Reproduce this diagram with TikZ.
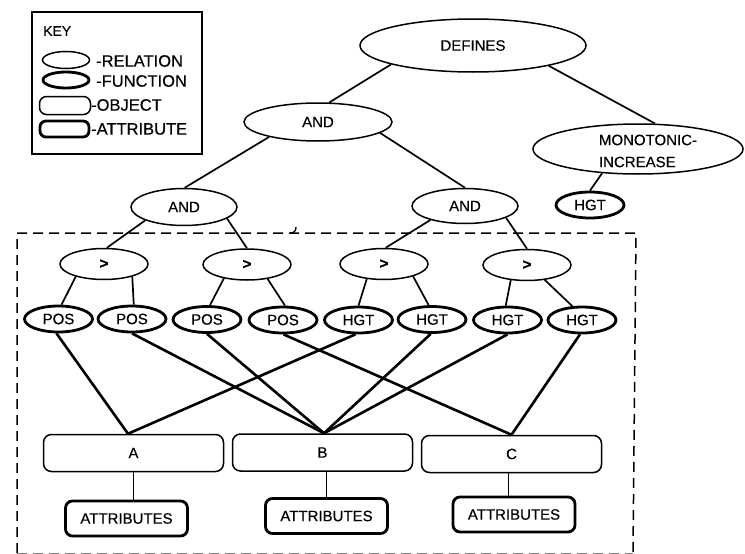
\documentclass[tikz,border=0pt]{standalone}
\usepackage{fontspec}
\setmainfont{Liberation Sans}[FakeBold=0.4]
\usetikzlibrary{shapes.geometric}
\begin{document}
\begin{tikzpicture}[x=1pt,y=-1pt,
  lbl/.style={font=\fontsize{15}{22}\selectfont},
  rel/.style={ellipse,draw,line width=1.5pt,inner sep=0pt,lbl},
  fun/.style={ellipse,draw,line width=2.8pt,inner sep=0pt,lbl,minimum width=68pt,minimum height=26pt},
  obj/.style={rectangle,rounded corners=8pt,draw,line width=1.5pt,inner sep=0pt,lbl,minimum width=180pt,minimum height=37pt},
  attr/.style={rectangle,rounded corners=7pt,draw,line width=2.8pt,inner sep=0pt,lbl,minimum width=122pt,minimum height=35pt},
  rel3/.style={rel,minimum width=88pt,minimum height=31pt},
  thinedge/.style={line width=1.7pt},
  thickedge/.style={line width=2.6pt},
  keytxt/.style={anchor=west,inner sep=0pt,font=\fontsize{16.5}{18}\selectfont}
]
\useasboundingbox (0,0) rectangle (745,554);

% ---------- key ----------
\node[draw,line width=1.5pt,minimum width=170pt,minimum height=142pt,inner sep=0pt] (keybox) at (117,83) {};
\node[anchor=west,inner sep=0pt,font=\fontsize{14}{16}\selectfont] (keyttl) at (43,31) {KEY};
\node[rel,minimum width=47pt,minimum height=17pt] (krel) at (66,60) {};
\node[fun,minimum width=46pt,minimum height=16pt] (kfun) at (66,80) {};
\node[obj,minimum width=51pt,minimum height=18pt,rounded corners=7pt] (kobj) at (65,105.5) {};
\node[attr,minimum width=49pt,minimum height=16pt,rounded corners=6pt] (kattr) at (64.5,129) {};
\node[keytxt] (trel) at (96,61) {-RELATION};
\node[keytxt] (tfun) at (96,81) {-FUNCTION};
\node[keytxt] (tobj) at (91,105) {-OBJECT};
\node[keytxt] (tattr) at (91,129) {-ATTRIBUTE};

% ---------- dashed frame ----------
\draw[line width=1.5pt,dash pattern=on 10pt off 6pt] (17,553) -- (17,233) -- (636,233) -- (633,553);
\draw[line width=0.8pt,gray,dash pattern=on 10pt off 6pt] (17,553) -- (633,553);
\draw[line width=1.3pt] (290,233) .. controls (294,233) and (296,231) .. (296,227);

% ---------- top of tree ----------
\node[rel,minimum width=226pt,minimum height=53pt] (def) at (473,45.5) {DEFINES};
\node[rel,minimum width=148pt,minimum height=38pt] (andT) at (318,122) {AND};
\node[rel,minimum width=210pt,minimum height=50pt] (mono) at (638,149) {};
\node[align=left,inner sep=0pt,lbl] (monotxt) at (648,151) {MONOTONIC-\\INCREASE};
\node[fun] (hgtT) at (590,205) {HGT};
\node[rel,minimum width=106pt,minimum height=37pt] (andL) at (184,207) {AND};
\node[rel,minimum width=106pt,minimum height=35pt] (andR) at (465,206) {AND};

% ---------- relations ----------
\node[rel3] (g1) at (104,264) {\textbf{>}};
\node[rel3] (g2) at (247,264.5) {\textbf{>}};
\node[rel3] (g3) at (384,264) {\textbf{>}};
\node[rel3] (g4) at (527,265) {\textbf{>}};

% ---------- functions ----------
\node[fun] (p1) at (58.5,319) {POS};
\node[fun] (p2) at (132,319) {POS};
\node[fun] (p3) at (207,319.5) {POS};
\node[fun] (p4) at (283,320) {POS};
\node[fun] (h1) at (358.5,320) {HGT};
\node[fun] (h2) at (432,319.5) {HGT};
\node[fun] (h3) at (507.5,320) {HGT};
\node[fun] (h4) at (582,320) {HGT};

% ---------- objects ----------
\node[obj] (A) at (133.5,453) {A};
\node[obj] (B) at (322.5,452.5) {B};
\node[obj] (C) at (511.5,454) {C};
\node[attr] (attA) at (126.5,518.5) {ATTRIBUTES};
\node[attr] (attB) at (326.5,516) {ATTRIBUTES};
\node[attr] (attC) at (514,514.5) {ATTRIBUTES};

% ---------- connectors ----------
\begin{scope}[thinedge]
\draw (def.193) -- (andT.60);
\draw (def.345) -- (mono.56);
\draw (mono.214) -- (hgtT.90);
\draw (andT.197) -- (andL.88);
\draw (andT.350) -- (andR.90);
\draw (andL.199) -- (g1.80);
\draw (andL.345) -- (g2.90);
\draw (andR.202) -- (g3.84);
\draw (andR.344) -- (g4.90);
\draw (g1.204) -- (p1.78);
\draw (g1.336) -- (p2.83);
\draw (g2.211) -- (p3.78);
\draw (g2.325) -- (p4.82);
\draw (g3.221) -- (h1.90);
\draw (g3.337) -- (h2.103);
\draw (g4.223) -- (h3.97);
\draw (g4.320) -- (h4.125);
\draw (A.south) -- (A.south |- attA.north);
\draw (attB.north |- B.south) -- (attB.north);
\draw ([xshift=-3pt]C.south) -- ([xshift=-3pt]C.south |- attC.north);
\end{scope}
\begin{scope}[thickedge]
\draw (p1.262) -- ([xshift=-5.5pt]A.north);
\draw (h1.258) -- ([xshift=-5.5pt]A.north);
\draw (p2.270) -- ([xshift=1.5pt]B.north);
\draw (p3.270) -- ([xshift=1.5pt]B.north);
\draw (h2.265) -- ([xshift=1.5pt]B.north);
\draw (h3.270) -- ([xshift=1.5pt]B.north);
\draw (p4.272) -- (C.north);
\draw (h4.262) -- (C.north);
\end{scope}
\end{tikzpicture}
\end{document}
